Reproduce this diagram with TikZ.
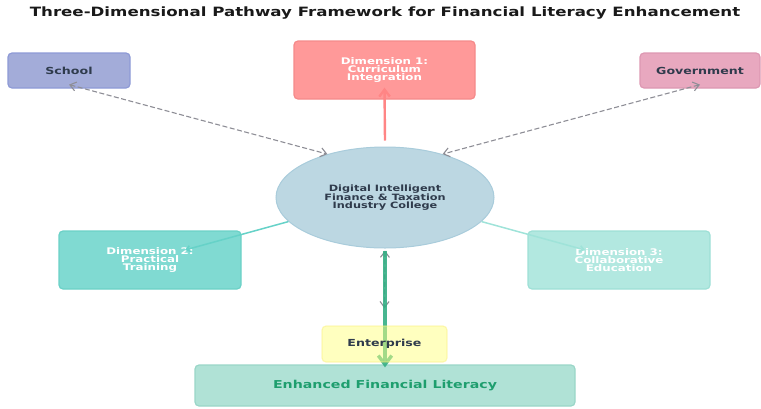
\documentclass[tikz,border=0pt]{standalone}
\usepackage{fontspec}
\setmainfont[FakeStretch=1.3]{DejaVu Sans}
\usetikzlibrary{arrows.meta,shapes.geometric}

\definecolor{schoolfill}{HTML}{A3ACD9}
\definecolor{schooledge}{HTML}{8E9AD6}
\definecolor{dimAfill}{HTML}{FF9999}
\definecolor{dimAedge}{HTML}{F58A8A}
\definecolor{govfill}{HTML}{E8A8BF}
\definecolor{govedge}{HTML}{DD98B2}
\definecolor{collegefill}{HTML}{BCD7E2}
\definecolor{collegeedge}{HTML}{A9CCDB}
\definecolor{dimBfill}{HTML}{80DAD2}
\definecolor{dimBedge}{HTML}{6BD1C7}
\definecolor{dimCfill}{HTML}{B2E8E0}
\definecolor{dimCedge}{HTML}{9EE0D6}
\definecolor{entfill}{HTML}{FFFF80}
\definecolor{entedge}{HTML}{FAF080}
\definecolor{enhfill}{HTML}{B0E2D6}
\definecolor{enhedge}{HTML}{9AD6C8}
\definecolor{enhtext}{HTML}{1E9E6E}
\definecolor{darktext}{HTML}{2F3B4C}
\definecolor{graylink}{HTML}{8E8E96}
\definecolor{pinklink}{HTML}{FF8585}
\definecolor{teallink}{HTML}{66D2C8}
\definecolor{teallight}{HTML}{9FE3D9}
\definecolor{greenlink}{HTML}{34AE84}

\pgfdeclarelayer{top}
\pgfsetlayers{main,top}

\begin{document}
\begin{tikzpicture}[x=1pt,y=-1pt,
  box/.style={draw, rounded corners=4pt, line width=1.2pt, align=center,
    inner sep=0pt, font=\bfseries},
  actor/.style={box, minimum width=122pt, minimum height=35pt,
    text=darktext, font=\bfseries\fontsize{9.7}{10}\selectfont},
  dimbox/.style={box, minimum width=182pt, minimum height=58pt,
    text=white, font=\bfseries\fontsize{9.1}{7.7}\selectfont},
  duallink/.style={graylink, line width=1.1pt, dash pattern=on 5pt off 2.5pt,
    {Straight Barb[length=6pt,width=9pt]}-{Straight Barb[length=6pt,width=9pt]}},
  tip/.style={-{Straight Barb[length=#1,width=1.5*#1]}}
]
\useasboundingbox (0,0) rectangle (761,408);

% title
\node[anchor=base, text=black!90, font=\bfseries\fontsize{12.8}{14}\selectfont]
  (title) at (385,16) {Three-Dimensional Pathway Framework for Financial Literacy Enhancement};

% partners and dimensions
\node[actor, fill=schoolfill, draw=schooledge] (school) at (69,70.5) {School};
\node[actor, fill=govfill, draw=govedge, minimum width=120pt] (gov) at (700,70.5) {Government};
\node[dimbox, fill=dimAfill, draw=dimAedge, minimum width=181pt] (dim1) at (384.5,70)
  {Dimension 1:\\Curriculum\\Integration};
\node[dimbox, fill=dimBfill, draw=dimBedge] (dim2) at (150,260)
  {Dimension 2:\\Practical\\Training};
\node[dimbox, fill=dimCfill, draw=dimCedge] (dim3) at (619,260)
  {Dimension 3:\\Collaborative\\Education};

% the college at the centre
\node[ellipse, draw=collegeedge, fill=collegefill, line width=1pt,
  minimum width=218pt, minimum height=101pt, inner sep=0pt, align=center,
  text=darktext, font=\bfseries\fontsize{8.7}{7.8}\selectfont] (college) at (385,197.5)
  {Digital Intelligent\\Finance \& Taxation\\Industry College};

% outcome
\node[box, fill=enhfill, draw=enhedge, minimum width=380pt, minimum height=41pt,
  text=enhtext, font=\bfseries\fontsize{10.9}{12}\selectfont] (enh) at (385,385.5)
  {Enhanced Financial Literacy};

% enterprise sits above the central arrow
\begin{pgfonlayer}{top}
\node[box, fill=entfill, draw=entedge, fill opacity=0.5, draw opacity=0.5, text opacity=1,
  minimum width=125pt, minimum height=36pt, text=darktext,
  font=\bfseries\fontsize{9.7}{10}\selectfont] (ent) at (384.5,344) {Enterprise};
\end{pgfonlayer}

% links to the partners
\draw[duallink] ([yshift=4pt]school.south) -- (college.143);
\draw[duallink] ([yshift=4pt]gov.south) -- (college.37);

% dimension links
\draw[pinklink, line width=2.4pt, tip=7pt] ([yshift=6pt]college.north) -- ([yshift=12pt]dim1.south);
\draw[teallink, line width=1.5pt, tip=4pt] (college.194) -- ([xshift=35pt,yshift=10pt]dim2.center);
\draw[teallight, line width=1.5pt, tip=4pt] (college.-14) -- ([xshift=-34pt,yshift=10pt]dim3.center);

% college to enterprise and outcome
\draw[duallink] ([yshift=-2pt]college.south) -- ([yshift=17pt]ent.north);
\draw[greenlink, line width=3.4pt, opacity=0.9, tip=9pt] ([yshift=-2pt]college.south) -- ([yshift=-3pt]enh.north);
\end{tikzpicture}
\end{document}
